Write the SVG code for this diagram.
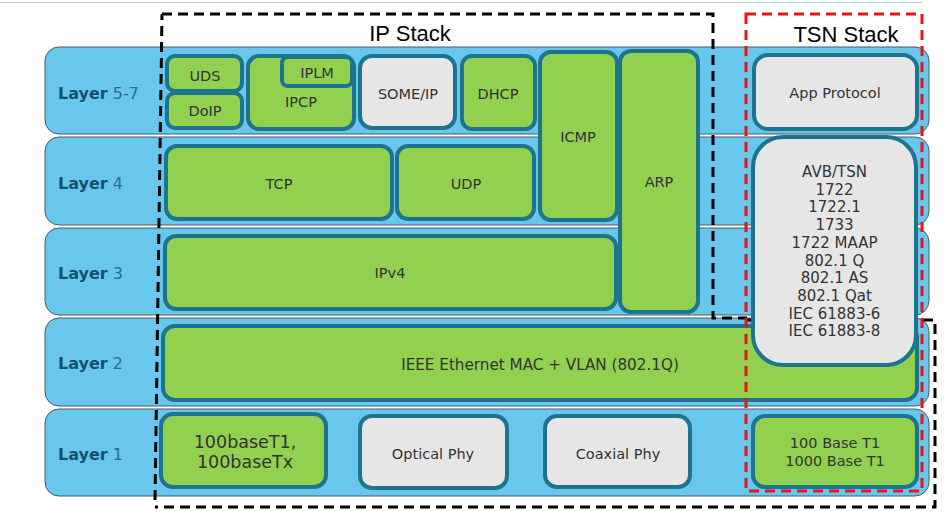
<svg xmlns="http://www.w3.org/2000/svg" width="950" height="518" viewBox="0 0 950 518">
<style>
.band{fill:#69C7EE;stroke:#4a5a66;stroke-width:1}
.g{fill:#92D050;stroke:#1C758C;stroke-width:4}
.gr{fill:#E6E6E6;stroke:#1C758C;stroke-width:4}
.t{font-family:"DejaVu Sans",Verdana,sans-serif;font-size:14.5px;fill:#333;text-anchor:middle}
.big{font-size:17.5px}
.lab{font-family:"DejaVu Sans",Verdana,sans-serif;font-size:16px;fill:#2A6C8E}
.lab tspan.b{font-weight:bold;fill:#17506F}
.title{font-family:"Liberation Sans",Arial,sans-serif;font-size:22px;fill:#000;text-anchor:middle}
.blk{fill:none;stroke:#000;stroke-width:3;stroke-dasharray:10 6}
.red{fill:none;stroke:#E8141B;stroke-width:3;stroke-dasharray:10 6}
</style>
<rect width="950" height="518" fill="#fff"/>
<line x1="0" y1="2.5" x2="922" y2="2.5" stroke="#B8CDD8" stroke-width="1"/>

<g id="layers">
  <g id="layer57"><rect class="band" x="45" y="47" width="884" height="87" rx="14"/><text class="lab" x="58" y="99"><tspan class="b">Layer</tspan> 5-7</text></g>
  <g id="layer4"><rect class="band" x="45" y="137" width="884" height="88" rx="14"/><text class="lab" x="58" y="189"><tspan class="b">Layer</tspan> 4</text></g>
  <g id="layer3"><rect class="band" x="45" y="228" width="884" height="87" rx="14"/><text class="lab" x="58" y="279"><tspan class="b">Layer</tspan> 3</text></g>
  <g id="layer2"><rect class="band" x="45" y="318" width="884" height="88" rx="14"/><text class="lab" x="58" y="369"><tspan class="b">Layer</tspan> 2</text></g>
  <g id="layer1"><rect class="band" x="45" y="409" width="884" height="87" rx="14"/><text class="lab" x="58" y="460"><tspan class="b">Layer</tspan> 1</text></g>
</g>

<g id="connectors">
  <path id="ipstack-frame" class="blk" d="M162,14 L713,14 L713,318 L747,318 M747,320 L935,320 L935,507 L155,507 M155,500 L162,14"/>
</g>

<g id="uds"><rect class="g" x="167" y="56" width="75" height="35" rx="8"/><text class="t" x="205" y="81">UDS</text></g>
<g id="doip"><rect class="g" x="167" y="93" width="75" height="35" rx="8"/><text class="t" x="205" y="116">DoIP</text></g>
<g id="ipcp"><rect class="g" x="248" y="56" width="106" height="73" rx="11"/><text class="t" x="301" y="107">IPCP</text></g>
<g id="iplm"><rect class="g" x="282" y="57" width="70" height="29" rx="6"/><text class="t" x="317" y="78">IPLM</text></g>
<g id="someip"><rect class="gr" x="360" y="56" width="95" height="72" rx="12"/><text class="t" x="408" y="99">SOME/IP</text></g>
<g id="dhcp"><rect class="g" x="462" y="56" width="73" height="73" rx="10"/><text class="t" x="498" y="99">DHCP</text></g>
<g id="icmp"><rect class="g" x="540" y="52" width="77" height="168" rx="11"/><text class="t" x="578" y="142">ICMP</text></g>
<g id="arp"><rect class="g" x="620" y="51" width="78" height="261" rx="11"/><text class="t" x="659" y="187">ARP</text></g>
<g id="app-protocol"><rect class="gr" x="754" y="55" width="163" height="74" rx="14"/><text class="t" x="835" y="98">App Protocol</text></g>

<g id="tcp"><rect class="g" x="166" y="146" width="226" height="73" rx="11"/><text class="t" x="279" y="189">TCP</text></g>
<g id="udp"><rect class="g" x="397" y="146" width="137" height="73" rx="11"/><text class="t" x="466" y="189">UDP</text></g>

<g id="ipv4"><rect class="g" x="165" y="236" width="451" height="73" rx="11"/><text class="t" x="390" y="278">IPv4</text></g>

<g id="ethernet"><rect class="g" x="163" y="326" width="754" height="74" rx="12"/><text class="t" style="font-size:15.2px" x="540" y="370">IEEE Ethernet MAC + VLAN (802.1Q)</text></g>

<g id="avb-tsn"><rect class="gr" x="753" y="137" width="163" height="228" rx="30"/>
<text class="t" style="font-size:15px" x="834.5" y="177">AVB/TSN<tspan x="834.5" dy="17.7">1722</tspan><tspan x="834.5" dy="17.7">1722.1</tspan><tspan x="834.5" dy="17.7">1733</tspan><tspan x="834.5" dy="17.7">1722 MAAP</tspan><tspan x="834.5" dy="17.7">802.1 Q</tspan><tspan x="834.5" dy="17.7">802.1 AS</tspan><tspan x="834.5" dy="17.7">802.1 Qat</tspan><tspan x="834.5" dy="17.7">IEC 61883-6</tspan><tspan x="834.5" dy="17.7">IEC 61883-8</tspan></text></g>

<g id="base100t1"><rect class="g" x="161" y="414" width="165" height="73" rx="12"/><text class="t big" x="245" y="448">100baseT1,<tspan x="245" dy="20">100baseTx</tspan></text></g>
<g id="optical-phy"><rect class="gr" x="360" y="416" width="147" height="72" rx="12"/><text class="t" x="433" y="459">Optical Phy</text></g>
<g id="coaxial-phy"><rect class="gr" x="545" y="416" width="145" height="71" rx="12"/><text class="t" x="618" y="459">Coaxial Phy</text></g>
<g id="base-t1"><rect class="g" x="753" y="416" width="164" height="71" rx="12"/><text class="t" x="835" y="448">100 Base T1<tspan x="835" dy="18">1000 Base T1</tspan></text></g>

<g id="tsn-stack-frame"><rect class="red" x="746" y="14" width="176" height="477"/></g>

<g id="titles">
  <text class="title" x="410" y="41">IP Stack</text>
  <text class="title" x="846" y="42">TSN Stack</text>
</g>
</svg>
